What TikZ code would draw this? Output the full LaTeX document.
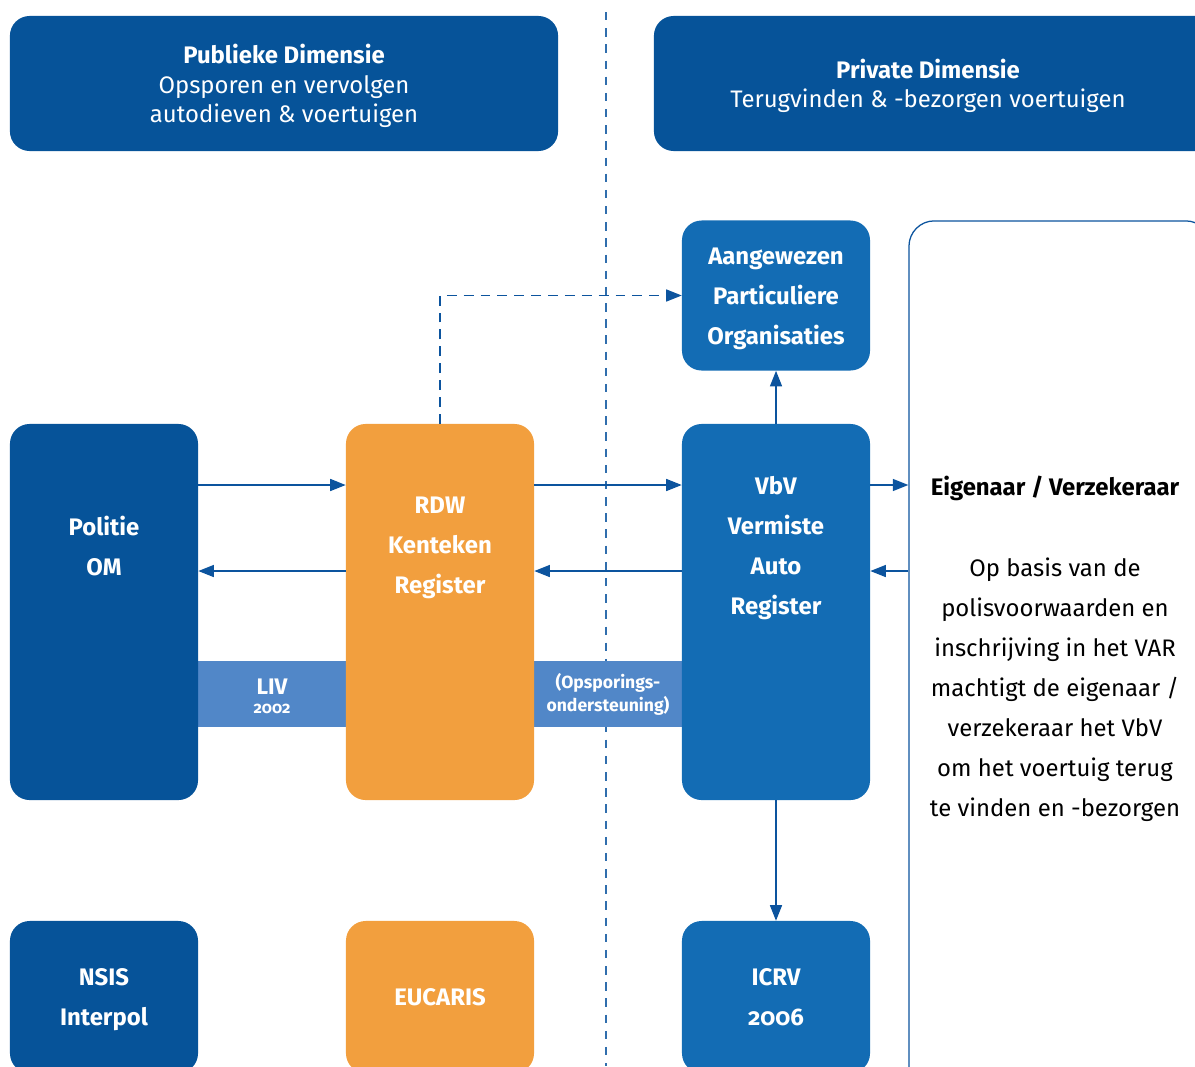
\documentclass[tikz,border=0pt]{standalone}
\usepackage{fontspec}
\setmainfont{Fira Sans}
\usetikzlibrary{arrows.meta, positioning}

\definecolor{rblue}{RGB}{6,83,153}
\definecolor{mblue}{RGB}{19,108,180}
\definecolor{rorange}{RGB}{242,159,62}
\definecolor{lblue}{RGB}{81,135,200}
\definecolor{lineblue}{RGB}{12,84,158}

\newcommand\headfont{\fontsize{17}{21}\selectfont}
\newcommand\boxfont{\fontsize{17}{28.5}\selectfont\bfseries}
\newcommand\bandfont{\fontsize{12.5}{16.5}\selectfont\bfseries}
\newcommand\sidefont{\fontsize{17}{28.5}\selectfont}

\begin{document}
\begin{tikzpicture}[x=0.025cm, y=-0.025cm,
  head/.style={fill=rblue, rounded corners=14pt, text=white, align=center,
    font=\headfont, minimum height=3.375cm},
  bigbox/.style={rounded corners=14pt, minimum width=4.7cm, minimum height=9.4cm},
  smallbox/.style={rounded corners=14pt, minimum width=4.7cm, minimum height=3.8cm,
    text=white, align=center, font=\boxfont},
  boxtext/.style={text=white, align=center, font=\boxfont},
  band/.style={fill=lblue, minimum width=3.7cm, minimum height=1.65cm,
    text=white, align=center, font=\bandfont},
  flow/.style={-{Triangle[length=11pt, width=8.5pt]}, line width=1pt, lineblue},
  dashflow/.style={flow, dash pattern=on 7pt off 5pt}]

  \useasboundingbox (0,0) rectangle (1195,1066);
  \clip (0,0) rectangle (1195,1066);

  % ── divider public / private ──
  \draw[lineblue!85, line width=1pt, dash pattern=on 6pt off 5.5pt] (606,12) -- (606,1066);

  % ── headers ──
  \node[head, minimum width=13.7cm] (publiek) at (284,83.5) {};
  \node[text=white, align=center, font=\headfont] at (284,86)
    {\textbf{Publieke Dimensie}\\Opsporen en vervolgen\\autodieven \& voertuigen};
  \node[head, minimum width=14.1cm] (privaat) at (936,83.5) {};
  \node[text=white, align=center, font=\headfont] at (928,86)
    {\textbf{Private Dimensie}\\Terugvinden \& -bezorgen voertuigen};

  % ── bands ──
  \node[band] (liv) at (272,694) {};
  \node[text=white, align=center, font=\bandfont] at (272,696)
    {{\fontsize{16}{18}\selectfont LIV}\\[-3pt]{\fontsize{11.5}{13}\selectfont\addfontfeatures{Numbers=OldStyle}2002}};
  \node[band] (opspor) at (608,694) {(Opsporings-\\ondersteuning)};

  % ── main row ──
  \node[bigbox, fill=rblue] (politie) at (104,612) {};
  \node[boxtext] at (104,546) {Politie\\OM};
  \node[bigbox, fill=rorange] (rdw) at (440,612) {};
  \node[boxtext] at (440,548) {RDW\\Kenteken\\Register};
  \node[bigbox, fill=mblue] (vbv) at (776,612) {};
  \node[boxtext] at (776,548) {VbV\\Vermiste\\Auto\\Register};

  % ── aangewezen particuliere organisaties ──
  \node[smallbox, fill=mblue, minimum height=3.75cm] (apo) at (776,295.5) {};
  \node[boxtext] at (776,299) {Aangewezen\\Particuliere\\Organisaties};

  % ── bottom row ──
  \node[smallbox, fill=rblue] (nsis) at (104,997) {};
  \node[boxtext] at (104,1000) {NSIS\\Interpol};
  \node[smallbox, fill=rorange] (eucaris) at (440,997) {EUCARIS};
  \node[smallbox, fill=mblue] (icrv) at (776,997)
    {ICRV\\{\addfontfeatures{Numbers=OldStyle}2006}};

  % ── eigenaar / verzekeraar ──
  \node[draw=lineblue, line width=0.9pt, fill=white, rounded corners=18pt,
    minimum width=7.55cm, minimum height=21.975cm] (eigenaar) at (1060,660.5) {};
  \node[align=center, font=\sidefont] at (1055,649)
    {\textbf{Eigenaar / Verzekeraar}\\ \\Op basis van de\\polisvoorwaarden en\\inschrijving in het VAR\\
     machtigt de eigenaar /\\verzekeraar het VbV\\om het voertuig terug\\te vinden en -bezorgen};

  % ── connectors ──
  \coordinate (upper) at (0,485);
  \coordinate (lower) at (0,571);
  \draw[flow] (politie.east |- upper) -- (rdw.west |- upper);
  \draw[flow] (rdw.west |- lower) -- (politie.east |- lower);
  \draw[flow] (rdw.east |- upper) -- (vbv.west |- upper);
  \draw[flow] (vbv.west |- lower) -- (rdw.east |- lower);
  \draw[flow] (vbv.east |- upper) -- (eigenaar.west |- upper);
  \draw[flow] (eigenaar.west |- lower) -- (vbv.east |- lower);
  \draw[flow] (vbv.north) -- (apo.south);
  \draw[flow] (vbv.south) -- (icrv.north);
  \draw[dashflow] (rdw.north) -- (rdw.north |- apo.west) -- (apo.west);

\end{tikzpicture}
\end{document}
